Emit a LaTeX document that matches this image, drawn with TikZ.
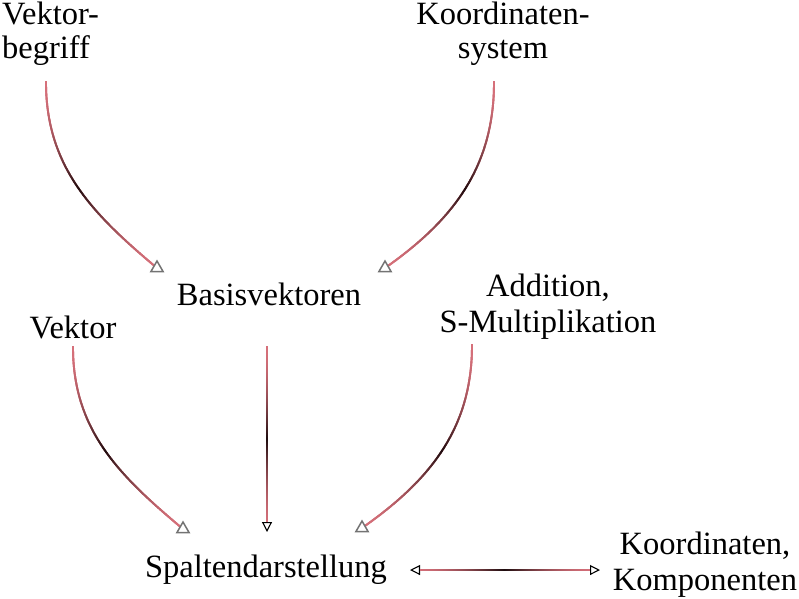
\documentclass[tikz,border=0pt]{standalone}
\usepackage{fontspec}
\setmainfont{Liberation Serif}
\usetikzlibrary{arrows.meta, shapes.geometric, decorations.markings}
\usepackage{xcolor}
\definecolor{linkpink}{RGB}{214,112,122}
\definecolor{linkdark}{RGB}{30,12,14}

\tikzset{
  concept/.style={font=\fontsize{32.5}{35.5}\selectfont, align=center, inner sep=0pt},
  topconcept/.style={concept, font=\fontsize{32.5}{34}\selectfont},
  link/.style={draw=linkpink, line width=1.9pt,
    postaction={decorate, decoration={markings,
      mark=between positions #1 step 1pt with {
        \pgfmathsetmacro\mixval{max(0,min(100,100*(1-abs(2*\pgfkeysvalueof{/pgf/decoration/mark info/distance from start}/\pgfdecoratedpathlength-1))^1.8))}
        \draw[arrows=-, line width=1.9pt, color=linkdark!\mixval!linkpink] (-0.7pt,0) -- (0.7pt,0);
      }}}},
  link/.default={0 and 1},
  headmark/.style={regular polygon, regular polygon sides=3, draw=black!55,
    fill=white, line width=1.5pt, inner sep=0pt, minimum size=14pt},
  tip/.tip={Triangle[open, color=black, length=10pt, width=10pt, line width=1.1pt]}
}

\begin{document}
\begin{tikzpicture}[x=1pt, y=-1pt]
        \useasboundingbox (0,0) rectangle (799,598);

        % Nodes
        \node[topconcept, align=left, anchor=base west] (vb) at (2,58) {Vektor-\\begriff};
        \node[topconcept, anchor=base] (ks) at (503,58) {Koordinaten-\\system};
        \node[concept, anchor=base] (bas) at (269,305) {Basisvektoren};
        \node[concept, anchor=base] (vek) at (73,338) {Vektor};
        \node[concept, anchor=base] (add) at (548,332) {Addition,\\S-Multiplikation};
        \node[concept, anchor=base] (spa) at (266,577) {Spaltendarstellung};
        \node[concept, anchor=base] (kk) at (705,590) {Koordinaten,\\Komponenten};

        % Edges
        \draw[link] ([shift={(44,24)}]vb.base west) to[out=-90, in=140]
              ([shift={(-112,-37)}]bas.base) node[headmark] {};
        \draw[link] ([shift={(-9,24)}]ks.base) to[out=-90, in=35]
              ([shift={(116,-37)}]bas.base) node[headmark] {};
        \draw[link={0 and -11pt}, -tip] ([shift={(-2,42)}]bas.base) -- ([shift={(1,-45)}]spa.base);
        \draw[link] ([shift={(0,9)}]vek.base) to[out=-90, in=140]
              ([shift={(-83,-48)}]spa.base) node[headmark] {};
        \draw[link] ([shift={(-76,13)}]add.base) to[out=-90, in=35]
              ([shift={(96,-49)}]spa.base) node[headmark] {};
        \draw[link={11pt and -11pt}, tip-tip] ([shift={(144,-7)}]spa.base) -- ([shift={(-105,-20)}]kk.base);

\end{tikzpicture}
\end{document}
